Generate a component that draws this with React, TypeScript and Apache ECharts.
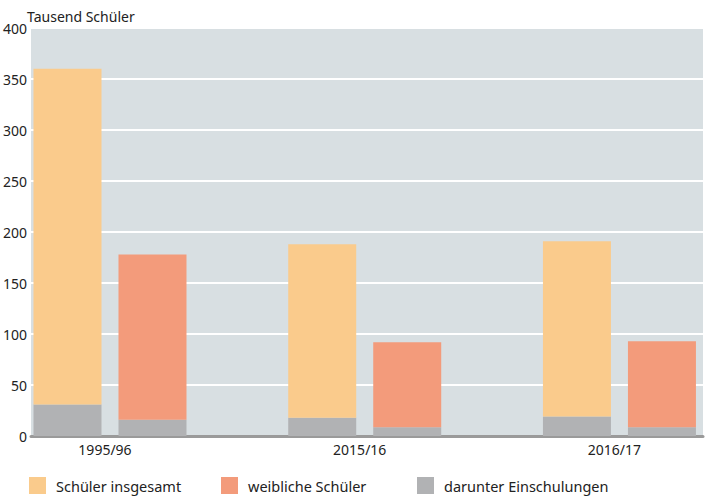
import React, { useEffect, useRef } from "react";
import * as echarts from "echarts";

const categories = ["1995/96", "2015/16", "2016/17"];
const schuelerInsgesamt = [360, 188, 191];
const weiblicheSchueler = [178, 92, 93];
const einschulungenInsgesamt = [31, 18, 19];
const einschulungenWeiblich = [16, 8.5, 8.5];
const yTicks = [0, 50, 100, 150, 200, 250, 300, 350, 400];

const FONT = "'Noto Sans', sans-serif";
const C_TOTAL = "#facb8c";
const C_FEMALE = "#f39b7b";
const C_GRAY = "#b1b2b4";

export default function App() {
  const ref = useRef<HTMLDivElement>(null);
  useEffect(() => {
    document.body.style.margin = "0";
    const chart = echarts.init(ref.current!, null, { renderer: "svg" });
    const idx = categories.map((_, i) => i);
    // value first, position second, so that stacking happens on the value dimension
    const pair = (arr: number[]) => arr.map((v, i) => [v, idx[i]]);
    const restTotal = schuelerInsgesamt.map((v, i) => v - einschulungenInsgesamt[i]);
    const restFemale = weiblicheSchueler.map((v, i) => v - einschulungenWeiblich[i]);
    const legendText = { fontFamily: FONT, fontSize: 14.5, color: "#222", padding: [0, 0, 0, 5] };
    const legendBase = { top: 477, itemWidth: 17, itemHeight: 17, icon: "rect", padding: 0, textStyle: legendText };
    const enc = { x: 1, y: 0 };
    chart.setOption({
      animation: false,
      title: {
        text: "Tausend Schüler",
        left: 22,
        top: 4,
        textStyle: { fontFamily: FONT, fontSize: 14, fontWeight: "normal", color: "#222" },
      },
      grid: { left: 25, width: 678, top: 28, height: 408, show: true, backgroundColor: "#d8dfe2", borderWidth: 0 },
      legend: [
        { ...legendBase, data: ["Schüler insgesamt"], left: 29 },
        { ...legendBase, data: ["weibliche Schüler"], left: 221 },
        { ...legendBase, data: ["darunter Einschulungen"], left: 417 },
      ],
      xAxis: {
        type: "value",
        min: -0.31,
        max: 2.328,
        axisLine: { show: true, onZero: false, lineStyle: { color: "#9a9a9a", width: 3 } },
        axisTick: { show: false },
        splitLine: { show: false },
        axisLabel: {
          customValues: idx,
          formatter: (v: number) => categories[Math.round(v)] ?? "",
          fontFamily: FONT,
          fontSize: 14,
          color: "#222",
          margin: 6,
          padding: [0, 10, 0, 0],
        },
      },
      yAxis: {
        type: "value",
        min: yTicks[0],
        max: yTicks[yTicks.length - 1],
        interval: 50,
        axisLine: { show: false },
        axisTick: { show: false },
        axisLabel: { fontFamily: FONT, fontSize: 14, color: "#222", margin: 4 },
        splitLine: { lineStyle: { color: "#ffffff", width: 2 } },
      },
      series: [
        {
          name: "darunter Einschulungen",
          type: "bar",
          stack: "total",
          barWidth: 68,
          barGap: "25%",
          encode: enc,
          itemStyle: { color: C_GRAY },
          data: pair(einschulungenInsgesamt),
        },
        {
          name: "Schüler insgesamt",
          type: "bar",
          stack: "total",
          barWidth: 68,
          encode: enc,
          itemStyle: { color: C_TOTAL },
          data: pair(restTotal),
        },
        {
          name: "darunter Einschulungen",
          type: "bar",
          stack: "female",
          barWidth: 68,
          encode: enc,
          itemStyle: { color: C_GRAY },
          data: pair(einschulungenWeiblich),
        },
        {
          name: "weibliche Schüler",
          type: "bar",
          stack: "female",
          barWidth: 68,
          encode: enc,
          itemStyle: { color: C_FEMALE },
          data: pair(restFemale),
        },
      ],
    });
    return () => chart.dispose();
  }, []);
  return <div ref={ref} style={{ width: 710, height: 502 }} />;
}
